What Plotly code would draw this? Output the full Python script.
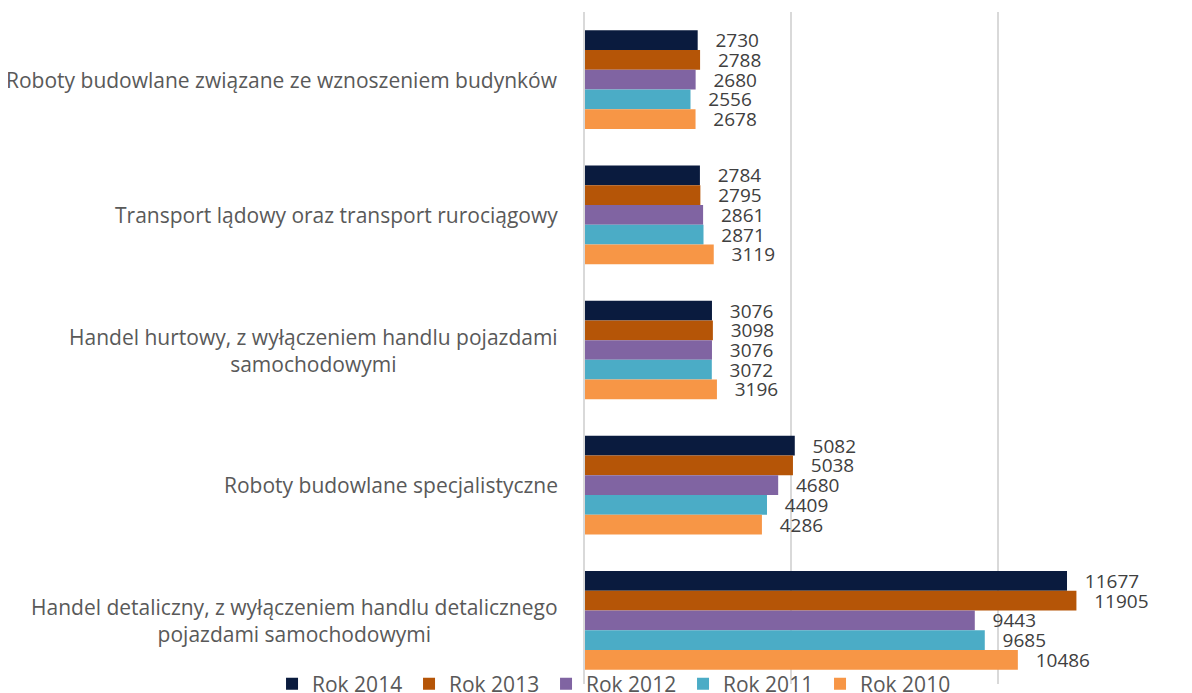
import plotly.graph_objects as go

categories = [
    "Roboty budowlane związane ze wznoszeniem budynków",
    "Transport lądowy oraz transport rurociągowy",
    "Handel hurtowy, z wyłączeniem handlu pojazdami<br>samochodowymi",
    "Roboty budowlane specjalistyczne",
    "Handel detaliczny, z wyłączeniem handlu detalicznego<br>pojazdami samochodowymi",
]
series_names = ["Rok 2014", "Rok 2013", "Rok 2012", "Rok 2011", "Rok 2010"]
rok_2014 = [2730, 2784, 3076, 5082, 11677]
rok_2013 = [2788, 2795, 3098, 5038, 11905]
rok_2012 = [2680, 2861, 3076, 4680, 9443]
rok_2011 = [2556, 2871, 3072, 4409, 9685]
rok_2010 = [2678, 3119, 3196, 4286, 10486]
values = [rok_2014, rok_2013, rok_2012, rok_2011, rok_2010]
colors = ["#0A1B3E", "#B55507", "#8064A2", "#4BACC6", "#F79646"]

FONT = "Open Sans"
fig = go.Figure()
for name, vals, col in zip(series_names, values, colors):
    fig.add_trace(go.Bar(
        y=categories, x=vals, name=name, orientation="h",
        marker=dict(color=col, line=dict(width=0)),
        text=[str(v) for v in vals], texttemplate="\u00a0\u00a0\u00a0%{text}",
        textposition="outside", constraintext="none", cliponaxis=False,
        textfont=dict(family=FONT, size=19, color="#404040"),
    ))

for cat in categories:
    fig.add_annotation(
        x=-0.0412, xref="paper", y=cat, yref="y", xanchor="right",
        text=cat, showarrow=False, align="center",
        font=dict(family=FONT, size=21, color="#595959"),
    )

fig.update_layout(
    width=1184, height=685,
    margin=dict(l=577, r=0, t=4, b=9, autoexpand=False),
    paper_bgcolor="white", plot_bgcolor="white",
    barmode="group", bargap=0.27, bargroupgap=0,
    showlegend=True,
    legend=dict(orientation="h", x=-0.5156, xanchor="left", xref="paper",
                y=-0.0001, yanchor="middle", yref="paper",
                entrywidth=92, entrywidthmode="pixels",
                font=dict(family=FONT, size=21, color="#595959"),
                bgcolor="rgba(0,0,0,0)", traceorder="normal"),
    xaxis=dict(range=[0, 14705], showticklabels=False, showgrid=True,
               gridcolor="#D9D9D9", gridwidth=2, zeroline=False,
               dtick=5000, tick0=0, ticks=""),
    yaxis=dict(range=[4.4704, -0.5], showticklabels=False, showline=True,
               linecolor="#D9D9D9", linewidth=2, ticks="", showgrid=False),
)
fig.write_html("out.html")
